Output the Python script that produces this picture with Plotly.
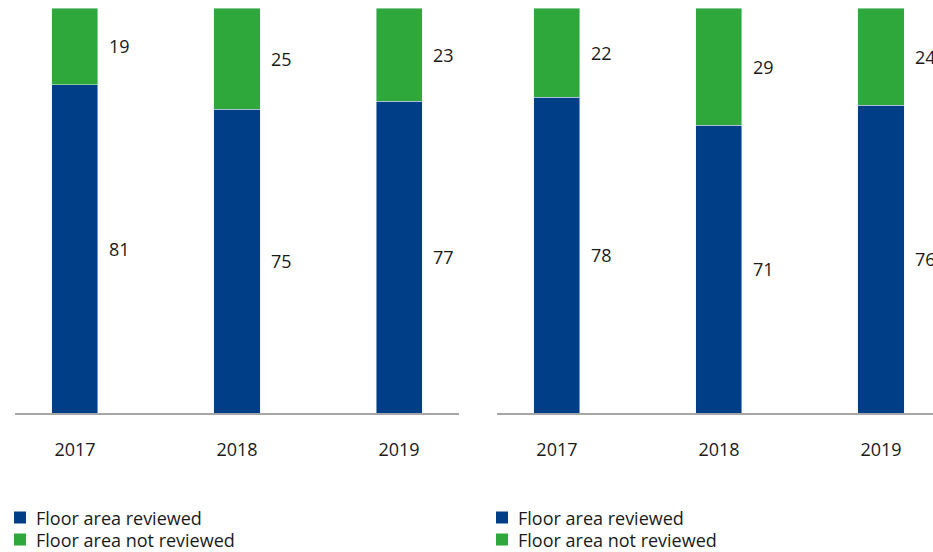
import plotly.graph_objects as go

# Share of floor area reviewed / not reviewed, in percent, for two portfolios
years = ["2017", "2018", "2019"]
left_reviewed = [81, 75, 77]
left_not_reviewed = [19, 25, 23]
right_reviewed = [78, 71, 76]
right_not_reviewed = [22, 29, 24]

series_names = ["Floor area reviewed", "Floor area not reviewed"]
BLUE = "#003F87"
GREEN = "#2EA83A"
TEXT = "#1a1a1a"
FONT = "Open Sans"
FONT_SIZE = 18
BAR_W = 0.284

W, H = 933, 552
MT, MB = 8, 139
PLOT_TOP, PLOT_BOT = MT, H - MB


def py_to_paper(py):
    """Convert a pixel row of the page into layout 'paper' y."""
    return (PLOT_BOT - py) / (PLOT_BOT - PLOT_TOP)


fig = go.Figure()

panels = [
    ("x", "y", left_reviewed, left_not_reviewed),
    ("x2", "y2", right_reviewed, right_not_reviewed),
]

annotations = []
for xa, ya, reviewed, not_reviewed in panels:
    fig.add_trace(go.Bar(
        x=years, y=reviewed, name=series_names[0], marker_color=BLUE,
        width=BAR_W, xaxis=xa, yaxis=ya, hoverinfo="skip", showlegend=False,
    ))
    fig.add_trace(go.Bar(
        x=years, y=not_reviewed, name=series_names[1], marker_color=GREEN,
        width=BAR_W, xaxis=xa, yaxis=ya, hoverinfo="skip", showlegend=False,
    ))
    # value labels beside each stacked segment
    for i, (r, n) in enumerate(zip(reviewed, not_reviewed)):
        for val, mid in ((r, r / 2), (n, r + n / 2)):
            annotations.append(dict(
                x=i + BAR_W / 2, y=mid, xref=xa, yref=ya,
                text=str(val), showarrow=False, xanchor="left",
                yanchor="middle", xshift=9,
                font=dict(family=FONT, size=FONT_SIZE, color=TEXT),
            ))

# legend key below each panel: coloured square + series name
shapes = []
legend_left_px = [14, 496]          # left edge of the key squares
legend_rows_px = [517.5, 539.5]     # vertical centre of each key row
legend_colors = [BLUE, GREEN]
for lx in legend_left_px:
    for name, color, cy in zip(series_names, legend_colors, legend_rows_px):
        shapes.append(dict(
            type="rect", xref="paper", yref="paper", layer="above",
            x0=lx / W, x1=(lx + 12) / W,
            y0=py_to_paper(cy + 6), y1=py_to_paper(cy - 6),
            fillcolor=color, line=dict(width=0),
        ))
        annotations.append(dict(
            x=(lx + 21) / W, y=py_to_paper(cy), xref="paper", yref="paper",
            text=name, showarrow=False, xanchor="left", yanchor="middle",
            borderpad=0, font=dict(family=FONT, size=FONT_SIZE, color=TEXT),
        ))

axis_common = dict(
    type="category", showgrid=False, zeroline=False,
    showline=True, linecolor="#a6a6a6", linewidth=1.5,
    ticks="", ticklabelstandoff=20,
    tickfont=dict(family=FONT, size=FONT_SIZE, color=TEXT),
)
yaxis_common = dict(range=[0, 100], visible=False, showgrid=False, zeroline=False)

fig.update_layout(
    width=W, height=H,
    margin=dict(l=0, r=0, t=MT, b=MB),
    paper_bgcolor="white", plot_bgcolor="white",
    barmode="stack", showlegend=False,
    xaxis=dict(domain=[15 / W, 459 / W], range=[-0.37, 2.37], **axis_common),
    xaxis2=dict(domain=[497 / W, 1.0], range=[-0.37, 2.321], anchor="y2", **axis_common),
    yaxis=dict(domain=[0, 1], anchor="x", **yaxis_common),
    yaxis2=dict(domain=[0, 1], anchor="x2", **yaxis_common),
    annotations=annotations,
    shapes=shapes,
)

fig.write_html("out.html")
